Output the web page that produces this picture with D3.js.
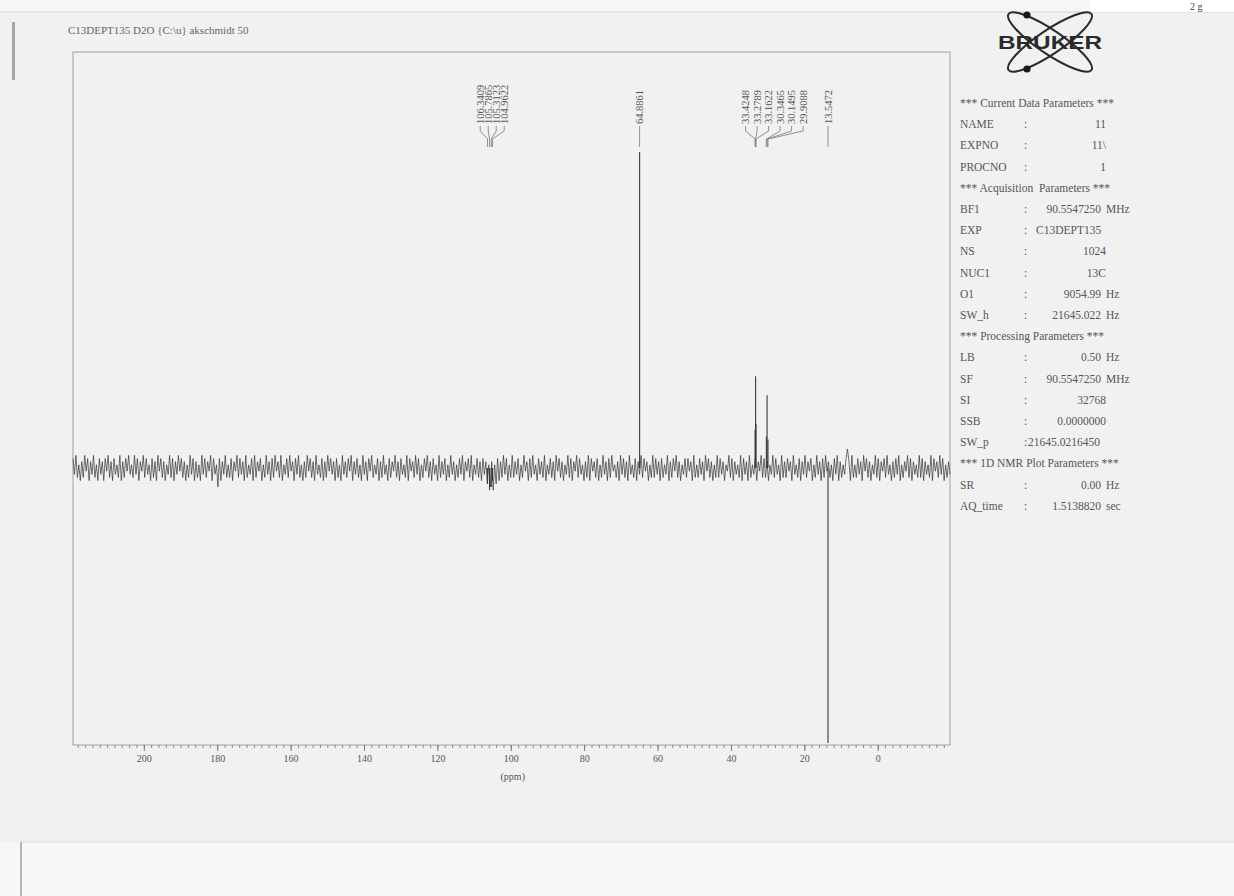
<!DOCTYPE html>
<html><head><meta charset="utf-8">
<script src="https://cdn.jsdelivr.net/npm/d3@7"></script>
<style>
body{margin:0;background:#f1f1f1;}
svg{display:block}
text{font-family:"Liberation Serif","DejaVu Serif",serif;}
</style>
</head><body><svg id="c" width="1234" height="896"></svg>
<script>
// ---------- data ----------
const titleText = "C13DEPT135 D2O {C:\\u} akschmidt 50";
const ppmLeft = 219.3, ppmRight = -19.7;          // spectral window (ppm)
const tickValues = [200,180,160,140,120,100,80,60,40,20,0];
const minorTickValues = d3.range(-18, 220, 2);
const axisTitle = "(ppm)";

const peakPpm    = [106.3409,105.7865,105.3123,104.9622,64.8861,33.4248,33.2789,33.1622,30.3465,30.1495,29.9088,13.5472];
const peakHeight = [-5,-7,-6,-4,100,12,29,14,10,23,9,-87];
const peakGroups = [[0,1,2,3],[4],[5,6,7,8,9,10],[11]];

const noise = [
 3,-2,4,-3,1,-4,2,-3,4,-1,3,-4,2,-2,4,-3,1,-4,3,-2,
 2,-4,3,-1,4,-3,2,-4,3,-2,1,-3,4,-4,2,-3,3,-1,4,-2,
 1,-3,4,-2,3,-4,2,-1,4,-3,3,-2,1,-4,3,-3,2,-4,4,-1,
 3,-3,2,-4,1,-2,4,-3,3,-4,2,-2,4,-1,3,-3,2,-4,1,-3,
 4,-2,3,-4,2,-3,1,-4,4,-2,3,-3,2,-1,4,-4,3,-2,1,-6,
 3,-4,2,-2,4,-3,1,-3,3,-4,2,-1,4,-3,3,-2,2,-4,4,-3,
 1,-2,3,-4,4,-3,2,-1,3,-4,1,-3,4,-2,2,-4,3,-3,4,-1,
 2,-3,4,-4,1,-2,3,-3,4,-1,2,-4,3,-2,4,-3,1,-4,2,-3,
 4,-1,3,-3,2,-4,4,-2,1,-3,3,-4,2,-3,4,-1,3,-2,2,-4,
 3,-3,1,-4,4,-2,2,-3,3,-1,4,-4,2,-2,3,-3,1,-4,4,-2,
 2,-4,3,-1,4,-3,1,-2,3,-4,2,-3,4,-2,1,-4,3,-3,2,-1,
 4,-3,2,-4,3,-2,1,-3,4,-4,3,-1,2,-3,4,-2,3,-4,1,-3,
 3,-1,4,-3,2,-4,3,-2,1,-4,4,-3,2,-2,3,-4,1,-3,4,-2,
 2,-4,1,-3,3,-2,4,-4,2,-1,3,-3,4,-4,1,-2,3,-3,2,-4,
 3,-2,2,-5,1,-6,2,-7,1,-5,3,-4,2,-3,4,-2,3,-4,1,-3,
 4,-3,2,-2,3,-4,1,-3,4,-1,2,-4,3,-3,4,-2,1,-4,3,-2,
 2,-3,4,-4,1,-2,3,-3,2,-4,4,-1,3,-3,2,-4,1,-2,4,-3,
 3,-4,2,-1,4,-3,3,-2,1,-4,2,-3,4,-4,3,-1,2,-3,3,-4,
 1,-3,4,-2,2,-4,3,-3,4,-1,1,-3,2,-4,4,-2,3,-3,2,-4,
 4,-2,1,-3,3,-4,2,-2,4,-3,3,-1,2,-4,1,-3,4,-3,3,-2,
 2,-4,3,-3,1,-2,4,-4,2,-3,3,-1,4,-3,2,-4,1,-2,3,-3,
 3,-1,2,-4,4,-3,1,-3,3,-2,2,-4,4,-1,3,-3,2,-4,1,-3,
 4,-3,3,-2,2,-4,1,-1,4,-3,3,-4,2,-2,1,-3,4,-4,3,-2,
 2,-4,4,-3,1,-2,3,-4,2,-1,4,-3,3,-3,2,-4,1,-2,4,-3,
 3,-2,1,-4,4,-3,2,-3,3,-1,2,-4,4,-2,1,-3,3,-4,2,-2,
 4,-3,2,-1,3,-4,1,-3,4,-2,2,-4,3,-3,4,-1,2,-3,1,-4,
 3,-2,4,-4,2,-3,1,-2,3,6,2,-4,4,-3,1,-3,3,-2,2,-4,
 4,-1,3,-3,2,-4,1,-2,4,-3,3,-4,2,-1,3,-3,4,-2,1,-4,
 2,-3,3,-2,4,-4,1,-3,2,-1,4,-3,3,-4,2,-2,1,-3,4,-3,
 3,-4,2,-2,1,-3,4,-4,3,-1,2,-3,4,-2,3,-4,1,-3,2,-2
];

const paramNames  = ["*** Current Data Parameters ***","NAME","EXPNO","PROCNO","*** Acquisition  Parameters ***","BF1","EXP","NS","NUC1","O1","SW_h","*** Processing Parameters ***","LB","SF","SI","SSB","SW_p","*** 1D NMR Plot Parameters ***","SR","AQ_time"];
const paramValues = ["","11","11\\","1","","90.5547250","C13DEPT135","1024","13C","9054.99","21645.022","","0.50","90.5547250","32768","0.0000000","21645.0216450","","0.00","1.5138820"];
const paramUnits  = ["","","","","","MHz","","","","Hz","Hz","","Hz","MHz","","","","","Hz","sec"];
const paramStyle  = ["h","r","r","r","h","r","l","r","r","r","r","h","r","r","r","r","c","h","r","r"];

// ---------- layout ----------
const W = 1234, H = 896;
const M = {left:73, right:950, top:52, bottom:745};
const svg = d3.select("#c");

// page background pieces
svg.append("rect").attr("x",0).attr("y",0).attr("width",W).attr("height",H).attr("fill","#f1f1f1");
svg.append("rect").attr("x",0).attr("y",0).attr("width",W).attr("height",12).attr("fill","#f6f6f6");
svg.append("line").attr("x1",0).attr("x2",W).attr("y1",12).attr("y2",12).attr("stroke","#d6d6d6");
svg.append("rect").attr("x",1090).attr("y",0).attr("width",144).attr("height",12).attr("fill","#ffffff");
svg.append("text").attr("x",1190).attr("y",10).attr("font-size",10).attr("fill","#444").text("2 g");
svg.append("rect").attr("x",12).attr("y",22).attr("width",3).attr("height",58).attr("fill","#a8a8a8");
svg.append("rect").attr("x",0).attr("y",842).attr("width",W).attr("height",54).attr("fill","#f7f7f7");
svg.append("line").attr("x1",20).attr("x2",W).attr("y1",842).attr("y2",842).attr("stroke","#dedede");
svg.append("rect").attr("x",20).attr("y",842).attr("width",2).attr("height",54).attr("fill","#b5b5b5");

// title
svg.append("text").attr("x",68).attr("y",34).attr("font-size",11).attr("fill","#666").text(titleText);

// scales
const x = d3.scaleLinear().domain([ppmLeft, ppmRight]).range([M.left, M.right]);
const y = d3.scaleLinear().domain([0, 100]).range([468, 152]);

// frame
svg.append("rect").attr("x",M.left).attr("y",M.top).attr("width",M.right-M.left).attr("height",M.bottom-M.top)
  .attr("fill","none").attr("stroke","#a0a0a0").attr("stroke-width",1);

// axis
const axisG = svg.append("g").attr("transform",`translate(0,${M.bottom})`);
const minorAxis = d3.axisBottom(x).tickValues(minorTickValues).tickSize(3).tickFormat("");
axisG.append("g").call(minorAxis).call(g=>g.select(".domain").remove())
  .selectAll("line").attr("stroke","#888");
const majorAxis = d3.axisBottom(x).tickValues(tickValues).tickSize(6).tickPadding(4).tickFormat(d3.format("d"));
axisG.append("g").call(majorAxis).call(g=>g.select(".domain").remove())
  .call(g=>g.selectAll("line").attr("stroke","#777"))
  .call(g=>g.selectAll("text").style("font-family","Liberation Serif, serif").attr("font-size",10).attr("fill","#555"));
svg.append("text").attr("x",x(100)+2).attr("y",M.bottom+35).attr("text-anchor","middle")
  .attr("font-size",10).attr("fill","#555").text(axisTitle);

// spectrum noise trace
const idx = d3.scaleLinear().domain([0, noise.length-1]).range([ppmLeft, ppmRight]);
const line = d3.line().x((d,i)=>x(idx(i))).y(d=>y(d));
svg.append("path").datum(noise).attr("d",line).attr("fill","none")
  .attr("stroke","#2e2e2e").attr("stroke-width",0.8).attr("stroke-opacity",0.85);

// peaks
svg.append("g").selectAll("line").data(peakPpm).join("line")
  .attr("x1",d=>x(d)).attr("x2",d=>x(d))
  .attr("y1",y(0)).attr("y2",(d,i)=>y(peakHeight[i]))
  .attr("stroke","#3a3a3a").attr("stroke-width",1.1);

// peak labels
const labelBase = 124, spacingByGroup = [8, 0, 11.5, 0], shiftByGroup = [2, 0, 13, 0];
const lg = svg.append("g");
peakGroups.forEach((grp, gi)=>{
  const xs = grp.map(i=>x(peakPpm[i]));
  const center = d3.mean(xs) + shiftByGroup[gi];
  grp.forEach((pi, k)=>{
    const lx = center + (k-(grp.length-1)/2)*spacingByGroup[gi];
    const px = x(peakPpm[pi]);
    lg.append("text").attr("transform",`translate(${lx},${labelBase}) rotate(-90)`)
      .attr("dy","0.35em").attr("font-size",10.5).attr("fill","#555")
      .text(peakPpm[pi].toFixed(4));
    lg.append("path").attr("d",`M${lx},${labelBase+2}L${lx},${labelBase+7}L${px},${labelBase+15}L${px},${labelBase+23}`)
      .attr("fill","none").attr("stroke","#777").attr("stroke-width",0.8);
  });
});

// parameter panel
const pg = svg.append("g").attr("font-size",11.5).attr("fill","#555");
paramNames.forEach((n,i)=>{
  const yy = 107 + i*21.2;
  const st = paramStyle[i];
  pg.append("text").attr("x",960).attr("y",yy).style("white-space","pre").text(n);
  if(st==="h") return;
  pg.append("text").attr("x",1024).attr("y",yy).text(":");
  if(st==="l"){
    pg.append("text").attr("x",1036).attr("y",yy).text(paramValues[i]);
  } else if(st==="c"){
    pg.append("text").attr("x",1028).attr("y",yy).text(paramValues[i]);
  } else if(paramUnits[i]){
    pg.append("text").attr("x",1101).attr("y",yy).attr("text-anchor","end").text(paramValues[i]);
    pg.append("text").attr("x",1106).attr("y",yy).text(paramUnits[i]);
  } else {
    pg.append("text").attr("x",1106).attr("y",yy).attr("text-anchor","end").text(paramValues[i]);
  }
});

// Bruker logo
const logo = svg.append("g").attr("transform","translate(1050,42)");
[34,-34].forEach(a=>{
  logo.append("ellipse").attr("rx",50).attr("ry",12).attr("transform",`rotate(${a})`)
    .attr("fill","none").attr("stroke","#2a2a2a").attr("stroke-width",2);
});
logo.append("circle").attr("cx",-23).attr("cy",-27).attr("r",3.6).attr("fill","#1a1a1a");
logo.append("circle").attr("cx",-23).attr("cy",27).attr("r",3.6).attr("fill","#1a1a1a");
logo.append("text").attr("x",0).attr("y",7).attr("text-anchor","middle")
  .style("font-family","'Liberation Sans', Arial, sans-serif").style("font-weight","bold")
  .attr("font-size",18).attr("textLength",104).attr("lengthAdjust","spacingAndGlyphs")
  .attr("fill","#2a2a2a").text("BRUKER");
</script>
</body></html>
